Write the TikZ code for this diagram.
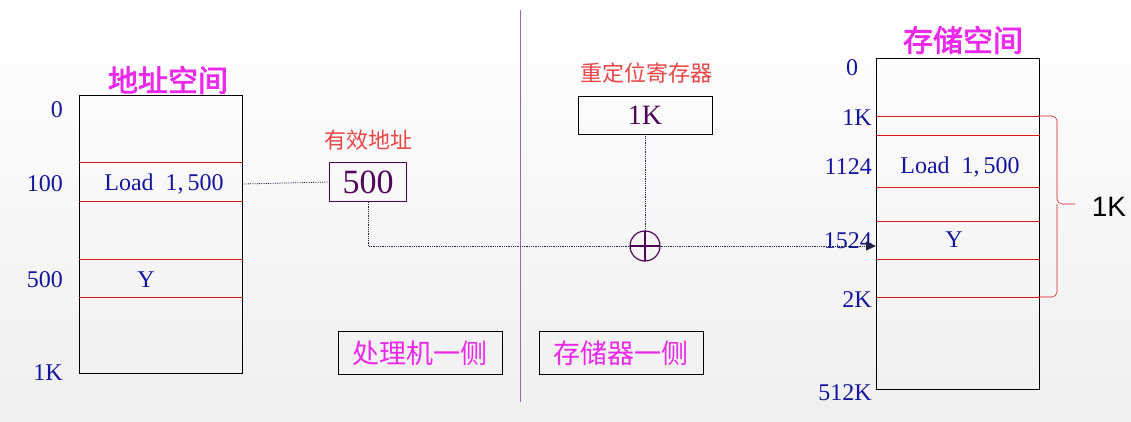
\documentclass[tikz,border=0pt]{standalone}
\usepackage{fontspec}
\setmainfont{Liberation Serif}
\setsansfont{Liberation Sans}
\newfontfamily\cjk{Noto Sans CJK SC}
\newfontfamily\cjkbold[FakeBold=2.5]{Noto Sans CJK SC}
\usetikzlibrary{arrows.meta}
\definecolor{numblue}{RGB}{20,20,160}
\definecolor{slotred}{RGB}{215,30,30}
\definecolor{titlemag}{RGB}{235,40,235}
\definecolor{valpurple}{RGB}{80,5,90}
\definecolor{capred}{RGB}{235,70,70}
\definecolor{divpurple}{RGB}{160,100,190}
\definecolor{arrownavy}{RGB}{35,35,70}

\begin{document}
\begin{tikzpicture}[x=1pt,y=-1pt,
    membox/.style={draw,thick,minimum width=163pt,inner sep=0pt,anchor=north west},
    slot/.style={slotred,thick},
    addr/.style={numblue,anchor=east,inner sep=0pt,font=\fontsize{24}{27}\selectfont},
    cell/.style={numblue,inner sep=0pt,font=\fontsize{24}{27}\selectfont},
    title/.style={titlemag,inner sep=0pt,font=\fontsize{30}{33}\cjkbold},
    caption/.style={capred,inner sep=0pt,font=\fontsize{22}{25}\cjk},
    valbox/.style={draw,thick,inner sep=0pt,valpurple},
    side/.style={draw,thick,minimum width=164pt,minimum height=43pt,inner sep=0pt,font=\fontsize{27}{30}\cjk},
    conn/.style={arrownavy,densely dotted,thick}]
  \useasboundingbox (0,0) rectangle (1131,422);
  \shade[top color=white,bottom color=black!6] (0,0) rectangle (1131,422);

  \node (as) [membox,minimum height=278pt] at (79,95) {};
  \foreach \y in {162,201,259,297}
    \draw[slot] (as.west |- 0,\y) -- (as.east |- 0,\y);
  \node (ast) [title] at (168,80) {地址空间};
  \node (a0) [addr] at (63,110) {0};
  \node (a100) [addr] at (63,184) {100};
  \node (a500) [addr] at (63,280) {500};
  \node (a1k) [addr] at (63,373) {1K};
  \node (ald) [cell] at (164,184) {Load\enspace 1,\,500};
  \node (ay) [cell] at (146,280) {Y};

  \node (eac) [caption] at (368,140) {有效地址};
  \node (ea) [valbox,minimum width=77pt,minimum height=39pt,font=\fontsize{34}{36}\selectfont] at (368,182) {500};

  \node (regc) [caption] at (646,73) {重定位寄存器};
  \node (reg) [valbox,black,minimum width=134pt,minimum height=38pt] at (645,115) {};
  \node [valpurple,font=\fontsize{28}{30}\selectfont] at (reg) {1K};
  \node (plus) [circle,draw,valpurple,very thick,minimum size=30pt,inner sep=0pt,
    path picture={\draw[valpurple,very thick]
      (path picture bounding box.north) -- (path picture bounding box.south)
      (path picture bounding box.west) -- (path picture bounding box.east);}] at (645,246) {};

  \node (ms) [membox,minimum height=331pt] at (876,58) {};
  \foreach \y in {116,135,187,221,259,297}
    \draw[slot] (ms.west |- 0,\y) -- (ms.east |- 0,\y);
  \node (mst) [title] at (963,40) {存储空间};
  \node (m0) [addr,anchor=center] at (852,68) {0};
  \node (m1k) [addr] at (872,118) {1K};
  \node (m1124) [addr] at (872,167) {1124};
  \node (m1524) [addr] at (872,241) {1524};
  \node (m2k) [addr] at (872,300) {2K};
  \node (m512k) [addr] at (872,393) {512K};
  \node (mld) [cell] at (960,167) {Load\enspace 1,\,500};
  \node (my) [cell] at (954,240) {Y};

  \draw[slotred,semithick,rounded corners=5pt] (1038,116) -- (1057,116) -- (1057,204) -- (1075,204);
  \draw[slotred,semithick,rounded corners=5pt] (1038,297) -- (1057,297) -- (1057,204);
  \node (len) [font=\sffamily\fontsize{28}{30}\selectfont,inner sep=0pt] at (1109,207) {1K};

  \draw[divpurple,thick] (520,10) -- (520,402);
  \node (pside) [side] at (420,353) {\color{titlemag}处理机一侧};
  \node (mside) [side] at (621,353) {\color{titlemag}存储器一侧};

  \draw[conn] (as.east |- ald) -- (ea.west);
  \draw[conn] (ea.south) |- (plus.west);
  \draw[conn] (reg.south) -- (plus.north);
  \draw[conn,-{Triangle[length=10pt,width=9pt]}] (plus.east) -- (ms.west |- plus);
\end{tikzpicture}
\end{document}
